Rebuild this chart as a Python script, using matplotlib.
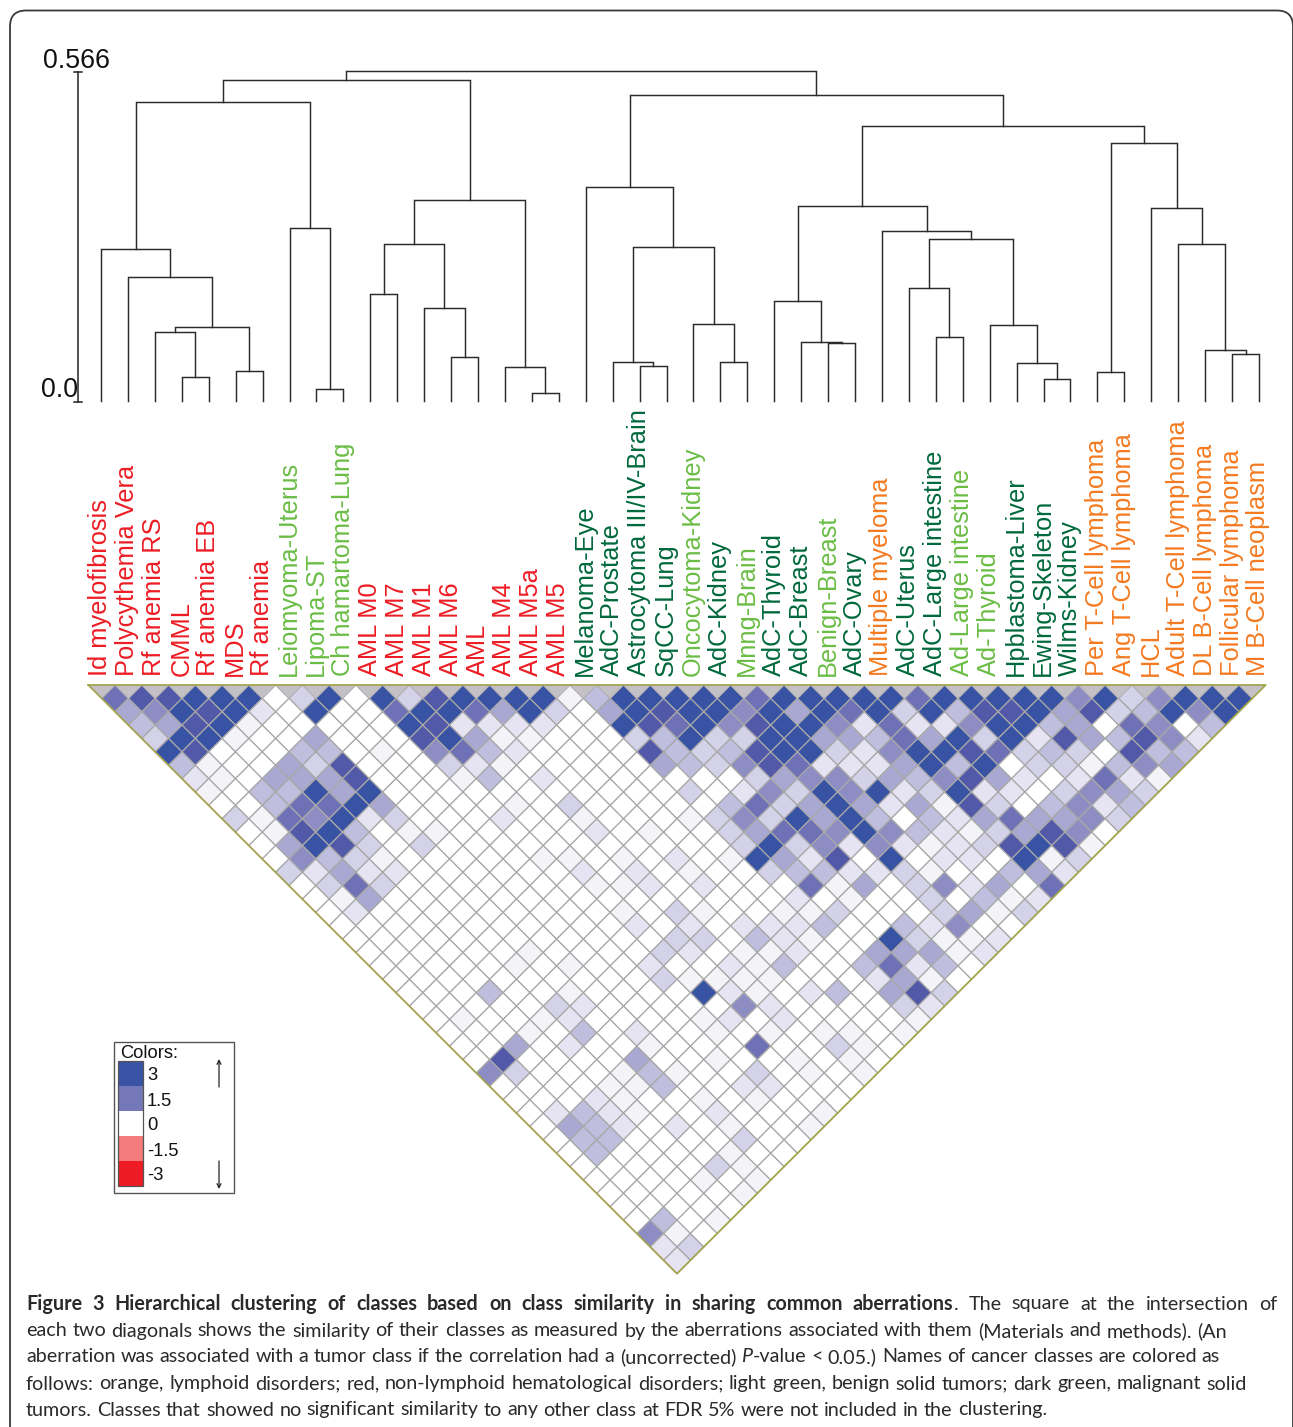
import matplotlib
matplotlib.use("Agg")
import matplotlib.pyplot as plt
from matplotlib.collections import PolyCollection
from matplotlib.colors import ListedColormap
from matplotlib.patches import FancyBboxPatch, Rectangle

W, H = 1293, 1427
SANS = "Liberation Sans"
CAPTION_FONT = "Lato"
CAPTION_SIZE = 14.2

RED = "#ed1c24"
LIGHT = "#6abd45"
DARK = "#00693c"
ORANGE = "#f47a20"

class_names = [
    "Id myelofibrosis", "Polycythemia Vera", "Rf anemia RS", "CMML", "Rf anemia EB", "MDS", "Rf anemia",
    "Leiomyoma-Uterus", "Lipoma-ST", "Ch hamartoma-Lung",
    "AML M0", "AML M7", "AML M1", "AML M6", "AML", "AML M4", "AML M5a", "AML M5",
    "Melanoma-Eye", "AdC-Prostate", "Astrocytoma III/IV-Brain", "SqCC-Lung", "Oncocytoma-Kidney", "AdC-Kidney",
    "Mnng-Brain", "AdC-Thyroid", "AdC-Breast", "Benign-Breast", "AdC-Ovary", "Multiple myeloma", "AdC-Uterus",
    "AdC-Large intestine", "Ad-Large intestine", "Ad-Thyroid", "Hpblastoma-Liver", "Ewing-Skeleton", "Wilms-Kidney",
    "Per T-Cell lymphoma", "Ang T-Cell lymphoma", "HCL", "Adult T-Cell lymphoma", "DL B-Cell lymphoma",
    "Follicular lymphoma", "M B-Cell neoplasm",
]
class_colors = (
    [RED] * 7 + [LIGHT] * 3 + [RED] * 8 + [DARK] * 4 + [LIGHT, DARK, LIGHT, DARK, DARK, LIGHT, DARK, ORANGE, DARK, DARK]
    + [LIGHT, LIGHT, DARK, DARK, DARK] + [ORANGE] * 7
)

# dendrogram merges, numbered on from the 44 leaves (node 44 is the first merge)
merge_left = [3, 2, 5, 45, 1, 0, 8, 7, 49, 10, 13, 12, 53, 16, 15, 56, 52, 20, 19, 23, 22, 62, 18,
              27, 26, 25, 31, 30, 35, 34, 33, 71, 29, 69, 37, 42, 41, 40, 39, 78, 77, 66, 60]
merge_right = [4, 44, 6, 46, 47, 48, 9, 50, 51, 11, 14, 54, 55, 17, 57, 58, 59, 21, 61, 24, 63, 64, 65,
               28, 67, 68, 32, 70, 36, 72, 73, 74, 75, 76, 38, 43, 79, 80, 81, 82, 83, 84, 85]
merge_height = [0.041, 0.118, 0.051, 0.127, 0.213, 0.261, 0.021, 0.297, 0.513, 0.184, 0.075, 0.160, 0.269,
                0.014, 0.058, 0.345, 0.551, 0.060, 0.067, 0.067, 0.132, 0.264, 0.367, 0.099, 0.101, 0.172,
                0.110, 0.194, 0.038, 0.065, 0.130, 0.278, 0.292, 0.334, 0.050, 0.081, 0.087, 0.269, 0.331,
                0.442, 0.472, 0.525, 0.566]

# similarity per diagonal: row n holds the pairs (i, i+n), one digit per pair, 0 white to 9 full blue
similarity_rows = [
    "78899903909389" "999149999979999" "97999996936999",
    "56989209007997" "593059899695979" "3948895834969",
    "45891000009822" "220098796899627" "226994507604",
    "3991005000895" "110003493399554" "759392854862",
    "9800044010674" "200008434899326" "99873430844",
    "410053800032" "100000543687222" "59490331465",
    "21055580001" "402000000035663" "54685202721",
    "10449590000" "000000030263969" "2392203653",
    "0047795000" "010300000473595" "2518304624",
    "3176923000" "200100013639594" "042575563",
    "018940110" "0000201003577696" "42135860",
    "05983030" "0000000000393626" "21238981",
    "06431000" "001101020195280" "90220913",
    "32522000" "000202010034422" "3100452",
    "0373000" "0000112020007150" "362507",
    "0150000" "00000000000201" "0030412",
    "02000000000" "1031001130003513",
    "00000000000" "202022240042600",
    "000000000000" "3304210093112",
    "0000001" "0000" "3201120055512",
    "0000010100" "2002140047240",
    "0000000000" "311110002510",
    "0004001" "0000" "9210240583",
    "0000032" "00000" "62000032",
    "010012" "0000" "120200001",
    "000104020010101101",
    "00502001000700310",
    "0800005001001010",
    "630001410030101",
    "00001140022000",
    "0002100101000",
    "024210020001",
    "05420201001",
    "0440000300",
    "040000100",
    "00000310",
    "0000101",
    "000001",
    "00000",
    "0401",
    "610",
    "23",
    "2",
]
step_colors = ["#ffffff", "#f4f3f8", "#e6e4f2", "#d3d2e8", "#bfbede",
               "#a9a8d2", "#8d8dc4", "#6f71b6", "#5159a8", "#3953a4"]

legend_values = ["3", "1.5", "0", "-1.5", "-3"]
legend_colors = ["#3953a4", "#7477b8", "#ffffff", "#f37b7b", "#ed1c24"]

caption_bold = "Figure 3 Hierarchical clustering of classes based on class similarity in sharing common aberrations"
caption_lines = [
    ". The square at the intersection of",
    "each two diagonals shows the similarity of their classes as measured by the aberrations associated with them (Materials and methods). (An",
    "aberration was associated with a tumor class if the correlation had a (uncorrected) P-value < 0.05.) Names of cancer classes are colored as",
    "follows: orange, lymphoid disorders; red, non-lymphoid hematological disorders; light green, benign solid tumors; dark green, malignant solid",
    "tumors. Classes that showed no significant similarity to any other class at FDR 5% were not included in the clustering.",
]
caption_y = [1304, 1331, 1357, 1384, 1410]
caption_end = [1277, 1227, 1220, 1247, 1047]

fig = plt.figure(figsize=(W / 100, H / 100), dpi=100)


def px_axes(left, top, right, bottom):
    return fig.add_axes([left / W, 1 - bottom / H, (right - left) / W, (bottom - top) / H])


# page layer in pixel coordinates
page = fig.add_axes([0, 0, 1, 1])
page.set_xlim(0, W)
page.set_ylim(H, 0)
page.axis("off")
page.add_patch(FancyBboxPatch((10, 10.5), 1283, 1440, boxstyle="round,pad=0,rounding_size=16",
                              fc="none", ec="#3a3a3a", lw=1.3))

# dendrogram
den = px_axes(101, 71, 1259, 401)
den.set_xlim(0, 43)
den.set_ylim(0, 0.566)
den.axis("off")
node_x = {k: float(k) for k in range(len(class_names))}
node_h = {k: 0.0 for k in range(len(class_names))}
for n, (a, b, h) in enumerate(zip(merge_left, merge_right, merge_height)):
    den.plot([node_x[a], node_x[a], node_x[b], node_x[b]], [node_h[a], h, h, node_h[b]],
             color="#2b2b2b", lw=1.05, clip_on=False, solid_joinstyle="miter")
    node_x[44 + n] = (node_x[a] + node_x[b]) / 2
    node_h[44 + n] = h

# height scale
page.plot([78, 78], [72, 402], color="#222222", lw=1.1)
page.plot([74, 82], [72, 72], color="#222222", lw=1.1)
page.plot([74, 82], [402, 402], color="#222222", lw=1.1)
page.text(76, 61, "0.566", family=SANS, fontsize=19.3, ha="center", va="center", color="#111111")
page.text(59, 390, "0.0", family=SANS, fontsize=19.3, ha="center", va="center", color="#111111")

# class names
for k, (name, col) in enumerate(zip(class_names, class_colors)):
    page.text(100.5 + k * 26.93, 676, name, family=SANS, fontsize=18.3, color=col, rotation=90,
              ha="center", va="bottom")

# triangular heatmap
heat = px_axes(88.3, 685, 1265.7, 1273.7)
heat.set_xlim(-0.5, 43.5)
heat.set_ylim(44, 0)
heat.axis("off")
polys, vals = [], []
for n, row in enumerate(similarity_rows, start=1):
    for i, digit in enumerate(row):
        c = i + n / 2
        polys.append([(c - 0.5, n), (c, n - 1), (c + 0.5, n), (c, n + 1)])
        vals.append(int(digit))
cells = PolyCollection(polys, array=vals, cmap=ListedColormap(step_colors), clim=(-0.5, 9.5),
                       edgecolors="#a8a8a8", linewidths=0.9, clip_on=False)
heat.add_collection(cells)
diag = [[(i - 0.5, 0), (i + 0.5, 0), (i, 1)] for i in range(len(class_names))]
heat.add_collection(PolyCollection(diag, facecolors="#c3c1c5", edgecolors="#b4b2b6", linewidths=0.6, clip_on=False))
heat.plot([-0.5, 43.5, 21.5, -0.5], [0, 0, 44, 0], color="#a3a34a", lw=1.2, clip_on=False)

# legend
page.add_patch(Rectangle((113.5, 1041.5), 120.5, 151, fc="white", ec="#555555", lw=1.0))
page.text(120, 1054, "Colors:", family=SANS, fontsize=13.2, ha="left", va="center", color="#111111")
for k, (lab, col) in enumerate(zip(legend_values, legend_colors)):
    y0 = 1061 + k * 25
    page.add_patch(Rectangle((118, y0), 25, 25, fc=col, ec="none"))
    page.text(147, y0 + 15, lab, family=SANS, fontsize=13.2, ha="left", va="center", color="#111111")
page.add_patch(Rectangle((118, 1061), 25, 125, fc="none", ec="#555555", lw=0.9))
page.annotate("", xy=(219, 1059), xytext=(219, 1087), arrowprops=dict(arrowstyle="->", lw=0.9, color="#222222", mutation_scale=7, shrinkA=0, shrinkB=0))
page.annotate("", xy=(219, 1189), xytext=(219, 1161), arrowprops=dict(arrowstyle="->", lw=0.9, color="#222222", mutation_scale=7, shrinkA=0, shrinkB=0))

# caption, set word by word so that each line ends where it does in the figure
renderer = fig.canvas.get_renderer()
CAP_L = 26


def draw_words(words, y, end):
    items = []
    for word, style in words:
        t = page.text(0, y, word, family=CAPTION_FONT, fontsize=CAPTION_SIZE, color="#2a2a2a", ha="left", va="center",
                      fontweight="bold" if style == "b" else "normal",
                      fontstyle="italic" if style == "i" else "normal")
        items.append(t)
    widths = [t.get_window_extent(renderer).width for t in items]
    sep = [0 if w[0].startswith(("-", ".")) else 1 for w, _ in words[1:]]
    gap = (end - CAP_L - sum(widths)) / sum(sep)
    x = CAP_L
    for k, t in enumerate(items):
        if k:
            x += sep[k - 1] * gap
        t.set_x(x)
        x += widths[k]


def split_line(text, style="n"):
    return [(w, style) for w in text.split(" ")]


first = split_line(caption_bold, "b") + split_line(caption_lines[0])
draw_words(first, caption_y[0], caption_end[0])
draw_words(split_line(caption_lines[1]), caption_y[1], caption_end[1])
before, after = caption_lines[2].split(" P-value ")
third = split_line(before) + [("P", "i"), ("-value", "n")] + split_line(after)
draw_words(third, caption_y[2], caption_end[2])
draw_words(split_line(caption_lines[3]), caption_y[3], caption_end[3])
draw_words(split_line(caption_lines[4]), caption_y[4], caption_end[4])

fig.savefig("out.png", dpi=100)
